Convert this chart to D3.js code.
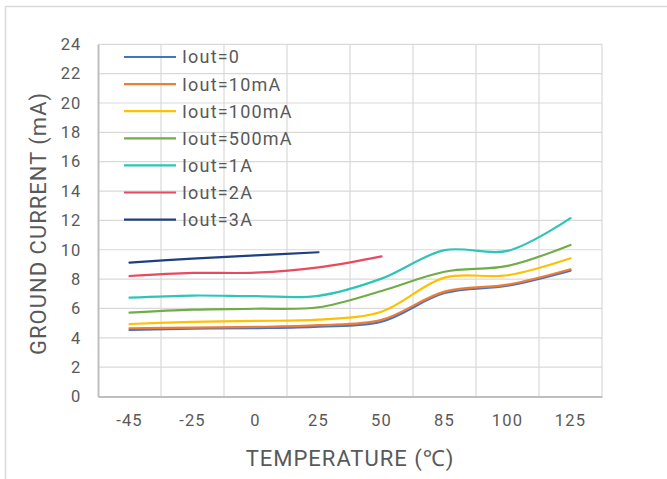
<!DOCTYPE html>
<html><head><meta charset="utf-8">
<script src="https://cdn.jsdelivr.net/npm/d3@7"></script>
<style>
body{margin:0;background:#fff;}
svg{display:block;font-family:Roboto, "Noto Sans", sans-serif;}
</style></head>
<body><svg id="chart" width="667" height="479"></svg>
<script>
const categories = ["-45","-25","0","25","50","85","100","125"];
const seriesNames = ["Iout=0","Iout=10mA","Iout=100mA","Iout=500mA","Iout=1A","Iout=2A","Iout=3A"];
const iout0     = [4.53,4.62,4.66,4.76,5.10,7.05,7.55,8.58];
const iout10mA  = [4.65,4.70,4.74,4.86,5.22,7.15,7.62,8.67];
const iout100mA = [4.94,5.08,5.15,5.24,5.78,8.10,8.26,9.42];
const iout500mA = [5.71,5.92,5.98,6.08,7.19,8.50,8.90,10.33];
const iout1A    = [6.74,6.88,6.84,6.86,8.03,9.97,9.92,12.15];
const iout2A    = [8.21,8.42,8.44,8.80,9.55,null,null,null];
const iout3A    = [9.12,9.40,9.62,9.83,null,null,null,null];
const colors = ["#4472C4","#ED7D31","#FFC000","#70AD47","#2EC4B6","#E84A5F","#203F7F"];
const yTicks = [0,2,4,6,8,10,12,14,16,18,20,22,24];
const series = [iout0,iout10mA,iout100mA,iout500mA,iout1A,iout2A,iout3A];

const svg = d3.select("#chart");
svg.append("rect").attr("x",5.5).attr("y",6.5).attr("width",700).attr("height",500)
  .attr("fill","none").attr("stroke","#d9d9d9").attr("stroke-width",1.5);

const pL=98, pR=602, pT=44.3, pB=396.5;
const x = d3.scaleBand().domain(categories).range([pL,pR]);
const y = d3.scaleLinear().domain([0,24]).range([pB,pT]);

const g = svg.append("g");
g.selectAll(".hg").data(yTicks.slice(1)).join("line")
  .attr("x1",pL).attr("x2",pR).attr("y1",d=>y(d)).attr("y2",d=>y(d))
  .attr("stroke","#d9d9d9").attr("stroke-width",1.2);
g.selectAll(".vg").data(categories).join("line")
  .attr("x1",d=>x(d)+x.step()).attr("x2",d=>x(d)+x.step())
  .attr("y1",pT).attr("y2",pB)
  .attr("stroke","#d9d9d9").attr("stroke-width",1.2);

const yAxis = d3.axisLeft(y).tickValues(yTicks).tickSize(0).tickPadding(17);
const ya = svg.append("g").attr("transform",`translate(${pL},0)`).call(yAxis);
ya.select(".domain").attr("stroke","#bfbfbf").attr("stroke-width",2);
ya.selectAll("text").attr("fill","#595959").style("font-size","16.5px").style("font-family","Roboto").style("letter-spacing","0.8px");

const xAxis = d3.axisBottom(x).tickSize(0).tickPadding(18);
const xa = svg.append("g").attr("transform",`translate(0,${pB})`).call(xAxis);
xa.select(".domain").attr("stroke","#bfbfbf").attr("stroke-width",2);
xa.selectAll("text").attr("fill","#595959").style("font-size","16.5px").style("font-family","Roboto").style("letter-spacing","1.2px");

const line = d3.line()
  .x(d=>x(d.c)+x.bandwidth()/2).y(d=>y(d.v))
  .curve(d3.curveCatmullRom.alpha(0.5));
series.forEach((s,i)=>{
  const pts = s.map((v,j)=>({c:categories[j],v:v})).filter(d=>d.v!==null);
  svg.append("path").datum(pts).attr("d",line)
    .attr("fill","none").attr("stroke",colors[i]).attr("stroke-width",2.2)
    .attr("stroke-linecap","round");
});

const lg = svg.append("g");
seriesNames.forEach((n,i)=>{
  const yy = 57 + i*27.1;
  lg.append("line").attr("x1",124).attr("x2",176).attr("y1",yy).attr("y2",yy)
    .attr("stroke",colors[i]).attr("stroke-width",2.2);
  lg.append("text").attr("x",182).attr("y",yy).attr("dy","0.36em")
    .attr("fill","#595959").style("font-size","18px").style("letter-spacing","1.2px").text(n);
});

svg.append("text").attr("x",350).attr("y",458).attr("dy","0.36em").attr("text-anchor","middle")
  .attr("fill","#595959").style("font-size","22px").style("letter-spacing","1px").text("TEMPERATURE (℃)");
svg.append("text").attr("transform",`translate(38,${(pT+pB)/2+3}) rotate(-90)`)
  .attr("dy","0.36em").attr("text-anchor","middle")
  .attr("fill","#595959").style("font-size","22px").style("letter-spacing","1px").text("GROUND CURRENT (mA)");
</script></body></html>
